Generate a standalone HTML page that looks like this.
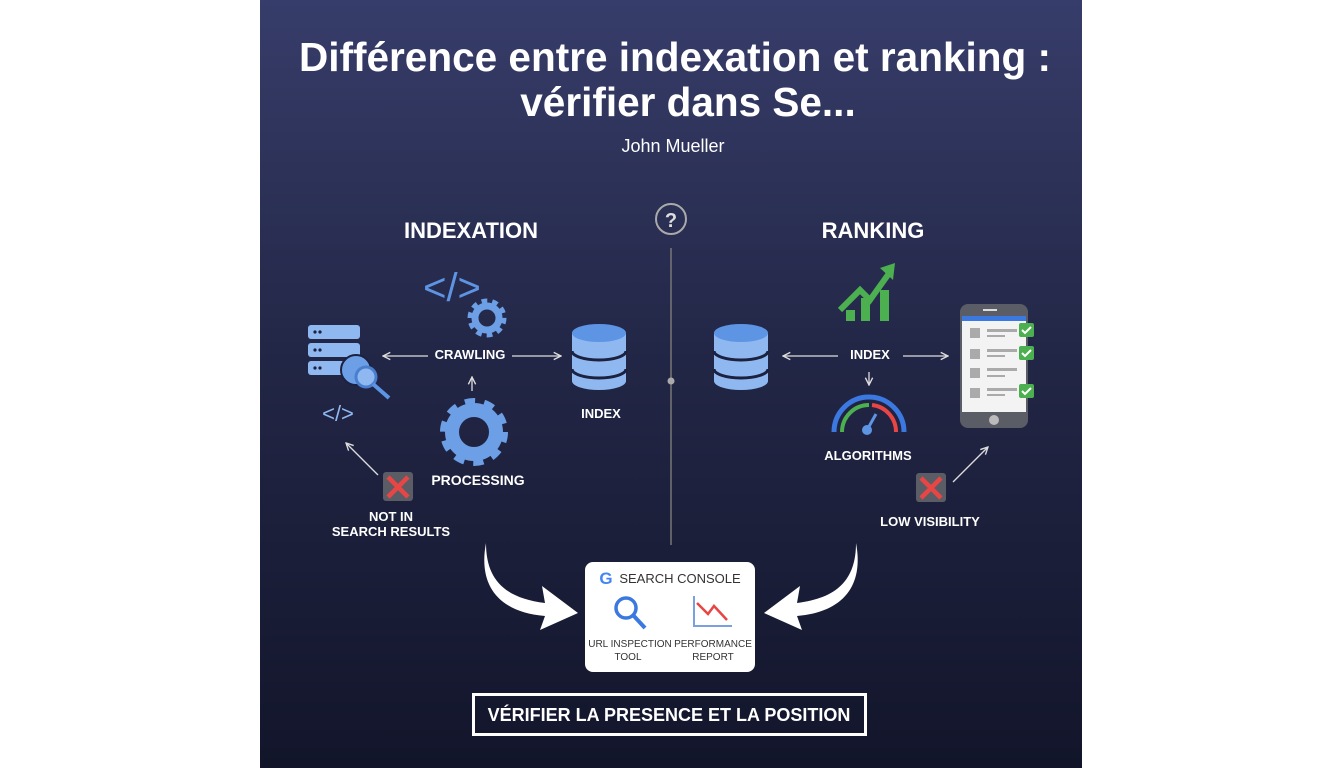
<!DOCTYPE html>
<html><head><meta charset="utf-8"><style>
body{margin:0;background:#fff;width:1344px;height:768px;overflow:hidden}
svg{display:block;font-family:"Liberation Sans",Arial,sans-serif}
</style></head><body>
<svg width="1344" height="768" viewBox="0 0 1344 768">
<defs>
<linearGradient id="bg" x1="0" y1="0" x2="0" y2="1">
<stop offset="0" stop-color="#373d6a"/><stop offset="0.45" stop-color="#232747"/><stop offset="1" stop-color="#12152a"/>
</linearGradient>
<marker id="ah" viewBox="0 0 10 10" refX="9" refY="5" markerWidth="7" markerHeight="7" orient="auto"><path d="M1 1L9 5L1 9" fill="none" stroke="#ddd" stroke-width="1.5"/></marker>
<g id="db">
<path d="M-27 -24v48a27 9 0 0 0 54 0v-48z" fill="#8fb8f0"/>
<ellipse cx="0" cy="-24" rx="27" ry="9" fill="#5d95e4"/>
<path d="M-27 -6a27 9 0 0 0 54 0M-27 12a27 9 0 0 0 54 0" fill="none" stroke="#1c2140" stroke-width="3"/>
</g>
<g id="xb"><rect x="-15" y="-14" width="30" height="29" rx="3" fill="#5a5d66"/><path d="M-10 -9L10 11M10 -9L-10 11" stroke="#e84545" stroke-width="4.5"/></g>
</defs>
<rect x="260" y="0" width="822" height="768" fill="url(#bg)"/>
<g fill="#fff" text-anchor="middle">
<text x="675" y="71" font-size="40.5" font-weight="bold" textLength="752" lengthAdjust="spacingAndGlyphs">Différence entre indexation et ranking :</text>
<text x="688" y="116" font-size="40.5" font-weight="bold">vérifier dans Se...</text>
<text x="673" y="152" font-size="18">John Mueller</text>
<text x="471" y="238" font-size="22" font-weight="bold">INDEXATION</text>
<text x="873" y="238" font-size="22" font-weight="bold">RANKING</text>
</g>
<circle cx="671" cy="219" r="15" fill="none" stroke="#aaa" stroke-width="2"/>
<text x="671" y="227" font-size="20" font-weight="bold" fill="#ddd" text-anchor="middle">?</text>
<line x1="671" y1="248" x2="671" y2="545" stroke="#777" stroke-width="1.5"/>
<circle cx="671" cy="381" r="3.5" fill="#aaa"/>

<!-- left -->
<g fill="#8fb8f0">
<rect x="308" y="325" width="52" height="14" rx="3"/><rect x="308" y="343" width="52" height="14" rx="3"/><rect x="308" y="361" width="52" height="14" rx="3"/>
</g>
<g fill="#1c2140"><circle cx="315" cy="332" r="1.6"/><circle cx="320" cy="332" r="1.6"/><circle cx="315" cy="350" r="1.6"/><circle cx="320" cy="350" r="1.6"/><circle cx="315" cy="368" r="1.6"/><circle cx="320" cy="368" r="1.6"/></g>
<circle cx="356" cy="370" r="15" fill="#6c9fe6" stroke="#1c2140" stroke-width="2"/>
<circle cx="366" cy="377" r="10" fill="#8fb8f0" stroke="#4a7fd0" stroke-width="3"/>
<line x1="373" y1="384" x2="389" y2="398" stroke="#5d95e4" stroke-width="4"/>
<text x="338" y="421" font-size="22" fill="#8fb8f0" text-anchor="middle">&lt;/&gt;</text>
<text x="452" y="301" font-size="40" fill="#5d95e4" text-anchor="middle">&lt;/&gt;</text>
<circle cx="487" cy="318" r="15" fill="none" stroke="#6c9fe6" stroke-width="9" stroke-dasharray="5 4.4"/>
<circle cx="487" cy="318" r="12" fill="none" stroke="#6c9fe6" stroke-width="7"/>
<circle cx="474" cy="432" r="27" fill="none" stroke="#6c9fe6" stroke-width="14" stroke-dasharray="9 8"/>
<circle cx="474" cy="432" r="22" fill="none" stroke="#6c9fe6" stroke-width="14"/>
<g fill="#fff" font-weight="bold" text-anchor="middle">
<text x="470" y="359" font-size="13">CRAWLING</text>
<text x="478" y="485" font-size="14">PROCESSING</text>
<text x="601" y="418" font-size="13">INDEX</text>
<text x="391" y="521" font-size="13">NOT IN</text>
<text x="391" y="536" font-size="13">SEARCH RESULTS</text>
</g>
<g stroke="#ddd" stroke-width="1.3" fill="none" marker-end="url(#ah)">
<line x1="428" y1="356" x2="383" y2="356"/><line x1="512" y1="356" x2="561" y2="356"/>
<line x1="472" y1="391" x2="472" y2="377"/><line x1="378" y1="475" x2="346" y2="443"/>
<line x1="838" y1="356" x2="783" y2="356"/><line x1="903" y1="356" x2="948" y2="356"/>
<line x1="869" y1="372" x2="869" y2="385"/><line x1="953" y1="482" x2="988" y2="447"/>
</g>
<use href="#db" x="599" y="357"/>
<use href="#xb" x="398" y="486"/>

<!-- right -->
<use href="#db" x="741" y="357"/>
<g fill="#4caf50"><rect x="846" y="310" width="9" height="11"/><rect x="861" y="298" width="9" height="23"/><rect x="880" y="290" width="9" height="31"/></g>
<polyline points="840,310 860,290 870,300 890,272" fill="none" stroke="#4caf50" stroke-width="6"/>
<path d="M880 268L895 263L893 280z" fill="#4caf50"/>
<text x="870" y="359" font-size="13" font-weight="bold" fill="#fff" text-anchor="middle">INDEX</text>
<path d="M834 432a35 35 0 0 1 70 0" fill="none" stroke="#3b78e0" stroke-width="5"/>
<path d="M842 432a27 27 0 0 1 27 -27" fill="none" stroke="#4caf50" stroke-width="4"/>
<path d="M872 405a27 27 0 0 1 24 27" fill="none" stroke="#e84545" stroke-width="4"/>
<circle cx="867" cy="430" r="5" fill="#5d95e4"/><line x1="867" y1="430" x2="876" y2="414" stroke="#5d95e4" stroke-width="3"/>
<text x="868" y="460" font-size="13" font-weight="bold" fill="#fff" text-anchor="middle">ALGORITHMS</text>
<rect x="960" y="304" width="68" height="124" rx="8" fill="#5a5d66"/>
<rect x="962" y="316" width="64" height="96" fill="#f3f3f3"/>
<rect x="962" y="316" width="64" height="5" fill="#3b78e0"/>
<rect x="983" y="309" width="14" height="2" fill="#ddd"/>
<circle cx="994" cy="420" r="5" fill="#bbb"/>
<g fill="#aaa"><rect x="970" y="328" width="10" height="10"/><rect x="970" y="349" width="10" height="10"/><rect x="970" y="368" width="10" height="10"/><rect x="970" y="388" width="10" height="10"/>
<rect x="987" y="329" width="30" height="3"/><rect x="987" y="335" width="18" height="2"/><rect x="987" y="349" width="30" height="3"/><rect x="987" y="355" width="18" height="2"/><rect x="987" y="368" width="30" height="3"/><rect x="987" y="375" width="18" height="2"/><rect x="987" y="388" width="30" height="3"/><rect x="987" y="394" width="18" height="2"/></g>
<g fill="#4caf50"><rect x="1019" y="323" width="15" height="14" rx="2"/><rect x="1019" y="346" width="15" height="14" rx="2"/><rect x="1019" y="384" width="15" height="14" rx="2"/></g>
<g stroke="#fff" stroke-width="2" fill="none"><path d="M1022 330l3 3l6 -6M1022 353l3 3l6 -6M1022 391l3 3l6 -6"/></g>
<use href="#xb" x="931" y="487"/>
<text x="930" y="526" font-size="13" font-weight="bold" fill="#fff" text-anchor="middle">LOW VISIBILITY</text>

<!-- big curved arrows -->
<path d="M486 543C486 580 505 598 545 603L542 586L578 613L540 630L545 616C498 612 478 585 486 543z" fill="#fff"/>
<path d="M856 543C856 580 837 598 797 603L800 586L764 613L802 630L797 616C844 612 864 585 856 543z" fill="#fff"/>

<!-- search console -->
<rect x="585" y="562" width="170" height="110" rx="8" fill="#fff"/>
<text x="606" y="584" font-size="17" font-weight="bold" fill="#4285f4" text-anchor="middle">G</text>
<text x="680" y="583" font-size="13" fill="#333" text-anchor="middle">SEARCH CONSOLE</text>
<circle cx="626" cy="608" r="10" fill="none" stroke="#3b78e0" stroke-width="3.5"/>
<line x1="633" y1="615" x2="645" y2="628" stroke="#3b78e0" stroke-width="4"/>
<polyline points="694,596 694,626 732,626" fill="none" stroke="#7aa0e0" stroke-width="2"/>
<polyline points="697,603 708,614 714,606 727,620" fill="none" stroke="#e84545" stroke-width="2.5"/>
<g font-size="10" fill="#333" text-anchor="middle">
<text x="630" y="647">URL INSPECTION</text><text x="628" y="660">TOOL</text>
<text x="713" y="647">PERFORMANCE</text><text x="713" y="660">REPORT</text>
</g>
<rect x="473.5" y="694.5" width="392" height="40" fill="none" stroke="#fff" stroke-width="3"/>
<text x="669" y="721" font-size="18" font-weight="bold" fill="#fff" text-anchor="middle">VÉRIFIER LA PRESENCE ET LA POSITION</text>
</svg>
</body></html>
